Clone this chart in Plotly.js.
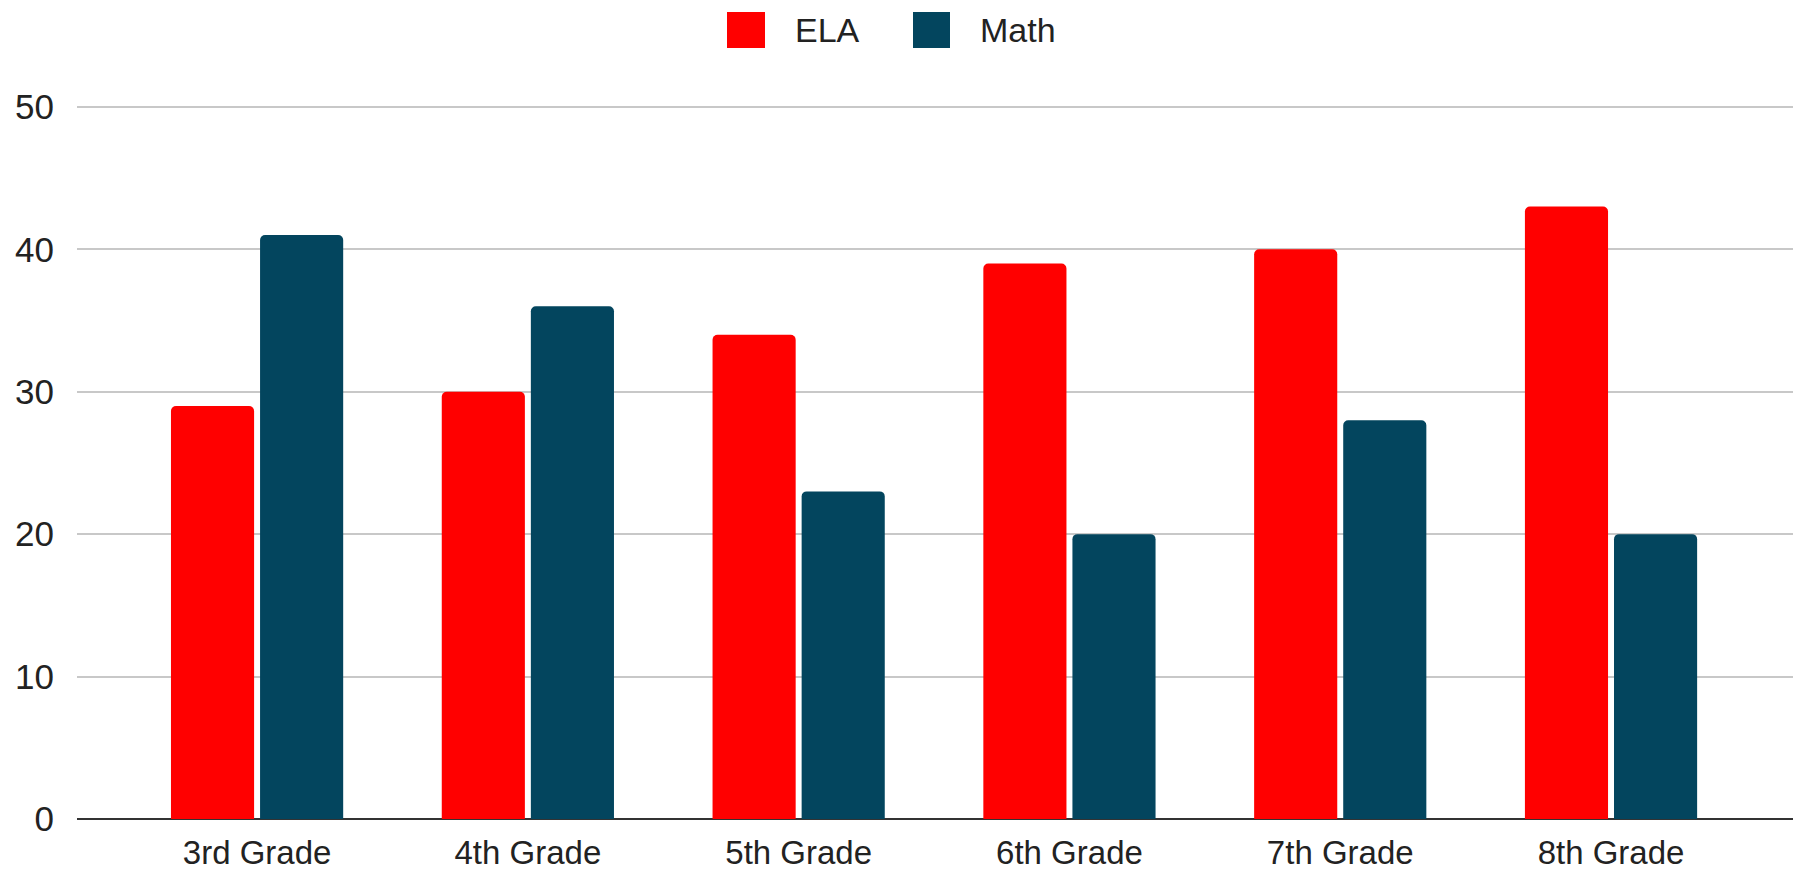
<!DOCTYPE html>
<html>
<head>
<meta charset="utf-8">
<script src="https://cdn.plot.ly/plotly-3.0.1.min.js"></script>
<style>
html,body{margin:0;padding:0;background:#fff;}
#chart{width:1793px;height:872px;}
</style>
</head>
<body>
<div id="chart"></div>
<script>
const grades = ["3rd Grade", "4th Grade", "5th Grade", "6th Grade", "7th Grade", "8th Grade"];
const elaValues = [29, 30, 34, 39, 40, 43];
const mathValues = [41, 36, 23, 20, 28, 20];
const seriesNames = ["ELA", "Math"];
const yTicks = [0, 10, 20, 30, 40, 50];

const colors = ["#ff0000", "#03455e"];
const FONT = "Arial, 'Liberation Sans', sans-serif";

const traces = [
  {type: "bar", name: seriesNames[0], x: grades, y: elaValues, marker: {color: colors[0]}, hoverinfo: "x+y+name"},
  {type: "bar", name: seriesNames[1], x: grades, y: mathValues, marker: {color: colors[1]}, hoverinfo: "x+y+name"}
];

// plot area in pixels
const L = 77, R = 0, T = 104, B = 53, W = 1793, H = 872;
const pw = W - L - R, ph = H - T - B;
function px2paperX(px){ return (px - L) / pw; }
function px2paperY(py){ return (H - B - py) / ph; }

const legendItems = [
  {name: seriesNames[0], color: colors[0], sq: [727, 765], tx: 793},
  {name: seriesNames[1], color: colors[1], sq: [913, 950], tx: 978}
];
const shapes = legendItems.map(it => ({
  type: "rect", xref: "paper", yref: "paper",
  x0: px2paperX(it.sq[0]), x1: px2paperX(it.sq[1]),
  y0: px2paperY(48), y1: px2paperY(12),
  fillcolor: it.color, line: {width: 0}
}));
const annotations = legendItems.map(it => ({
  xref: "paper", yref: "paper", x: px2paperX(it.tx), y: px2paperY(30),
  xanchor: "left", yanchor: "middle", showarrow: false,
  text: it.name, font: {family: FONT, size: 34, color: "#222"}
}));

const layout = {
  width: W, height: H,
  margin: {l: L, r: R, t: T, b: B, pad: 0},
  paper_bgcolor: "#fff", plot_bgcolor: "#fff",
  showlegend: false,
  barmode: "group",
  bargap: 0.342,
  bargroupgap: 0.067,
  barcornerradius: 5,
  font: {family: FONT, size: 34, color: "#222"},
  xaxis: {
    type: "category",
    range: [-0.665, 5.672],
    showgrid: false, zeroline: false, showline: false,
    ticks: "", tickfont: {family: FONT, size: 33, color: "#222"},
    ticklabelstandoff: 11,
    fixedrange: true
  },
  yaxis: {
    range: [0, 50.2],
    tickvals: yTicks, ticktext: yTicks.map(String),
    showgrid: true, gridcolor: "#c8c8c8", gridwidth: 2,
    zeroline: true, zerolinecolor: "#333333", zerolinewidth: 2,
    showline: false, ticks: "",
    tickfont: {family: FONT, size: 35, color: "#222"},
    ticklabelstandoff: 22,
    fixedrange: true
  },
  shapes: shapes,
  annotations: annotations
};

Plotly.newPlot("chart", traces, layout, {displayModeBar: false});
</script>
</body>
</html>
